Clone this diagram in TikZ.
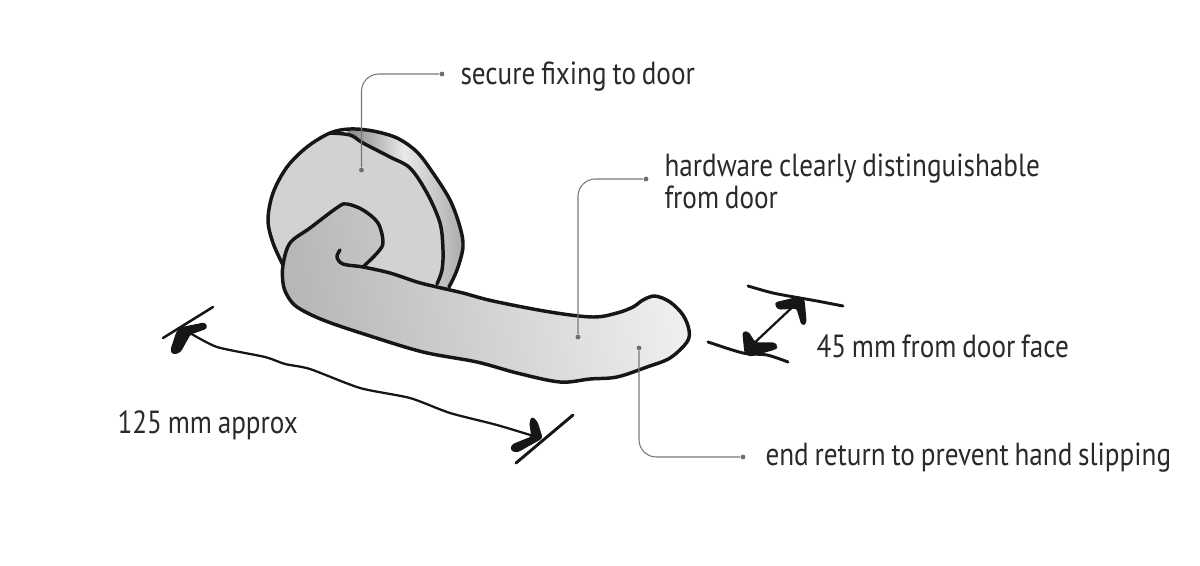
\documentclass[tikz,border=0pt]{standalone}
\usepackage{fontspec}
\setmainfont[FakeStretch=0.85,WordSpace=0.8]{PT Sans}
\tikzset{every picture/.style={line width=0.75pt}}
\tikzset{
  sketch/.style={color={rgb, 255:red, 22; green, 22; blue, 20 },line width=2.6pt,line cap=round,line join=round},
  thinsketch/.style={color={rgb, 255:red, 22; green, 22; blue, 20 },line width=1.7pt,line cap=round,line join=round},
  barb/.style={fill={rgb, 255:red, 22; green, 22; blue, 20 },draw={rgb, 255:red, 22; green, 22; blue, 20 },line width=1pt,line join=round,rounded corners=2pt},
  leader/.style={color={rgb, 255:red, 120; green, 120; blue, 120 },line width=0.8pt,rounded corners=13pt},
  dot/.style={circle,fill={rgb, 255:red, 110; green, 110; blue, 110 },inner sep=0pt,minimum size=3.6pt},
  label/.style={anchor=west,inner sep=0.75pt,align=left,font=\fontsize{24pt}{24.6pt}\selectfont,text={rgb, 255:red, 43; green, 42; blue, 41 }}
}
\begin{document}
\begin{tikzpicture}[x=0.75pt,y=0.75pt,yscale=-1,xscale=1]
	\useasboundingbox (0,0) rectangle (1200,565);

	%Shape: Rim
	\path [left color={rgb, 255:red, 130; green, 131; blue, 133 },right color={rgb, 255:red, 170; green, 171; blue, 173 },middle color={rgb, 255:red, 232; green, 233; blue, 234 }] plot [smooth,tension=0.55] coordinates {(345,129) (373,131) (397,138) (417,152) (433,173) (450,200) (460,227) (463,247) (457,270) (449,290)} -- (437,290) -- (442,270) -- (443,250) -- (440,223) -- (427,193) -- (410,168) -- (390,157) -- (363,143) -- (350,135) -- cycle;
	%Shape: Plate
	\path [fill={rgb, 255:red, 209; green, 210; blue, 212 }] plot [smooth,tension=0.55] coordinates {(283,265) (273,243) (268,220) (273,193) (287,167) (307,147) (330,133) (350,135) (363,143) (390,157) (410,168) (427,193) (440,223) (443,250) (442,270) (437,290)} -- (300,290) -- cycle;
	%Curve Lines: Plate outer edge
	\draw [sketch] plot [smooth,tension=0.55] coordinates {(283,265) (273,243) (268,220) (273,193) (287,167) (307,147) (330,133) (350,129) (373,131) (397,138) (417,152) (433,173) (450,200) (460,227) (463,247) (457,270) (449,287)};
	%Curve Lines: Plate inner edge
	\draw [sketch] plot [smooth,tension=0.55] coordinates {(330,133) (350,135) (363,143) (390,157) (410,168) (427,193) (440,223) (443,250) (442,270) (437,284)};
	%Shape: Lever
	\path [left color={rgb, 255:red, 182; green, 183; blue, 185 },right color={rgb, 255:red, 238; green, 239; blue, 240 },middle color={rgb, 255:red, 210; green, 211; blue, 213 },shading angle=100] plot [smooth,tension=0.55] coordinates {(363,267) (390,273) (417,282) (437,287) (463,293) (493,301) (550,312) (593,317) (617,313) (633,307) (643,300) (655,296) (670,302) (683,315) (689,330) (687,342) (670,358) (647,367) (617,377) (590,379) (560,382) (517,373) (477,362) (423,352) (367,335) (323,320) (297,307) (287,295) (283,283) (283,265) (290,243) (310,228) (338,207) (347,204) (363,210) (378,223) (383,242) (378,252) (363,267)};
	\draw [sketch] plot [smooth,tension=0.55] coordinates {(340,250) (337,257) (343,264) (363,267) (390,273) (417,282) (437,287) (463,293) (493,301) (550,312) (593,317) (617,313) (633,307) (643,300) (655,296) (670,302) (683,315) (689,330) (687,342) (670,358) (647,367) (617,377) (590,379) (560,382) (517,373) (477,362) (423,352) (367,335) (323,320) (297,307) (287,295) (283,283) (283,265) (290,243) (310,228) (338,207) (347,204) (363,210) (378,223) (383,242) (378,252) (363,267)};

	%Straight Lines: Leaders
	\node (plateDot) [dot] at (361.5,170) {};
	\node (plateEnd) [dot] at (442,74) {};
	\draw [leader] (plateDot) |- (plateEnd);
	\node (gripDot) [dot] at (578,337) {};
	\node (gripEnd) [dot] at (646,179) {};
	\draw [leader] (gripDot) |- (gripEnd);
	\node (tipDot) [dot] at (639,348) {};
	\node (tipEnd) [dot] at (743,457) {};
	\draw [leader] (tipDot) |- (tipEnd);

	%Curve Lines: Length dimension
	\draw [thinsketch] plot [smooth,tension=0.4] coordinates {(190,333) (217,347) (265,357) (285,364) (310,369) (360,388) (410,398) (450,413) (497,425) (540,438)};
	\draw [thinsketch,line width=1.9pt] (163,338) -- (213,307);
	\draw [thinsketch,line width=2.2pt] (516,463) -- (573,415);
	\draw [barb] (205,323) -- (207,328) -- (190,334) -- (180,352) -- (173,354) -- (171,350) -- (177,332) -- (180,328) -- cycle;
	\draw [barb] (532,417) -- (537,422) -- (542,438) -- (517,452) -- (511,450) -- (512,445) -- (532,437) -- (530,423) -- cycle;

	%Curve Lines: Door face dimension
	\coordinate (faceA) at (750,347);
	\coordinate (faceB) at (800,300);
	\draw [thinsketch] (faceA) -- (faceB);
	\draw [thinsketch,line width=2.2pt] plot [smooth,tension=0.5] coordinates {(748,286) (773,293) (800,298) (817,301) (843,306)};
	\draw [thinsketch,line width=2.2pt] plot [smooth,tension=0.5] coordinates {(708,342) (743,353) (767,355) (788,362)};
	\draw [barb] (775,303) -- (800,297) -- (804,300) -- (806,323) -- (802,325) -- (797,308) -- (778,309) -- cycle;
	\draw [barb] (743,332) -- (748,332) -- (755,343) -- (775,343) -- (777,347) -- (775,349) -- (750,356) -- (745,353) -- cycle;

	% Text Node
	\node (fixingText) [label] at (459,77) {secure fixing to door};
	% Text Node
	\node (hardwareText) [label,anchor=north west] at (663,152) {hardware clearly distinguishable\\from door};
	% Text Node
	\node (faceText) [label] at (815,346) {45 mm from door face};
	% Text Node
	\node (lengthText) [label] at (116,425) {125 mm approx};
	% Text Node
	\node (returnText) [label] at (764,458) {end return to prevent hand slipping};
\end{tikzpicture}
\end{document}
